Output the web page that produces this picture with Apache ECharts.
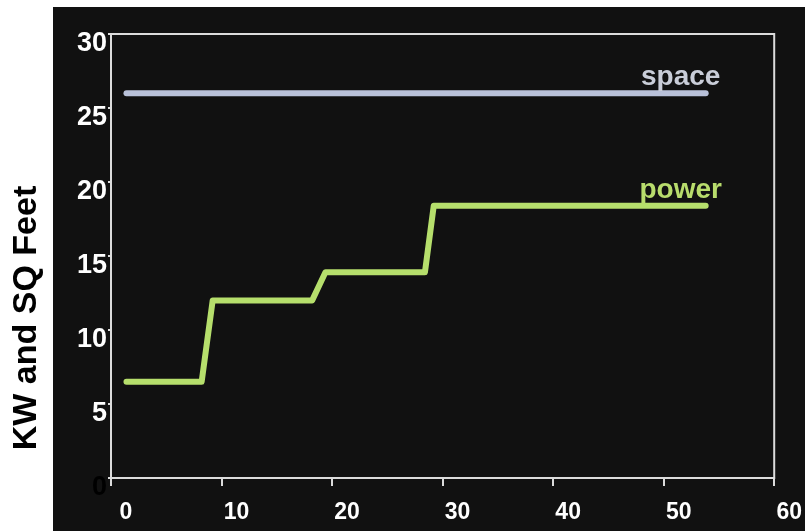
<!DOCTYPE html>
<html>
<head>
<meta charset="utf-8">
<script src="https://cdn.jsdelivr.net/npm/echarts@6/dist/echarts.min.js"></script>
<style>
html,body{margin:0;padding:0;background:#fff;}
#c{width:805px;height:531px;}
</style>
</head>
<body>
<div id="c"></div>
<script>
// Data
const spaceX = [1.4, 53.8];
const spaceY = [26, 26];
const powerX = [1.4, 8.2, 9.2, 18.2, 19.4, 28.4, 29.2, 53.8];
const powerY = [6.5, 6.5, 12.0, 12.0, 13.9, 13.9, 18.4, 18.4];
const seriesNames = ['space', 'power'];
const yTitle = 'KW and SQ Feet';

const zip = (xs, ys) => xs.map((x, i) => [x, ys[i]]);

const chart = echarts.init(document.getElementById('c'), null, {renderer: 'canvas'});

function endLabel(name, color, n) {
  return {
    show: true,
    position: 'top',
    offset: [-25, -1],
    distance: 0,
    color: color,
    fontFamily: 'Liberation Sans, Arial, sans-serif',
    fontWeight: 'bold',
    fontSize: 28,
    formatter: p => (p.dataIndex === n - 1 ? name : '')
  };
}

chart.setOption({
  animation: false,
  backgroundColor: '#ffffff',
  graphic: [
    {type: 'rect', z: -10, shape: {x: 53, y: 7, width: 760, height: 530}, style: {fill: '#111111'}},
    {type: 'text', x: 27, y: 318, rotation: Math.PI / 2,
      style: {text: yTitle, fill: '#000', font: 'bold 34px "Liberation Sans", Arial, sans-serif',
        textAlign: 'center', textVerticalAlign: 'middle'}}
  ],
  grid: {left: 111, right: 27, top: 34, bottom: 53, show: true, borderColor: '#dcdcdc', borderWidth: 2, backgroundColor: 'transparent'},
  xAxis: {
    type: 'value', min: 0, max: 60, interval: 10,
    axisLine: {show: true, lineStyle: {color: '#dcdcdc', width: 2}},
    axisTick: {show: true, length: 8, lineStyle: {color: '#dcdcdc', width: 2}},
    splitLine: {show: false},
    axisLabel: {color: '#ffffff', fontSize: 23, fontWeight: 'bold', fontFamily: 'Liberation Sans, Arial, sans-serif',
      margin: 23, padding: [0, 0, 0, 30]}
  },
  yAxis: {
    type: 'value', min: 0, max: 30, interval: 5,
    axisLine: {show: true, lineStyle: {color: '#dcdcdc', width: 2}},
    axisTick: {show: true, length: 3, lineStyle: {color: '#dcdcdc', width: 2}},
    splitLine: {show: false},
    axisLabel: {color: v => (v === 0 || v === '0' ? '#000000' : '#ffffff'), fontSize: 27, fontWeight: 'bold',
      fontFamily: 'Liberation Sans, Arial, sans-serif', margin: 4, verticalAlign: 'top', lineHeight: 20}
  },
  series: [
    {name: seriesNames[0], type: 'line', data: zip(spaceX, spaceY), showSymbol: true, symbol: 'circle', symbolSize: 1,
      itemStyle: {color: 'rgba(0,0,0,0)'},
      lineStyle: {color: '#b9c1d9', width: 6, cap: 'round', join: 'round'},
      label: endLabel(seriesNames[0], '#c9cdd8', spaceX.length)},
    {name: seriesNames[1], type: 'line', data: zip(powerX, powerY), showSymbol: true, symbol: 'circle', symbolSize: 1,
      itemStyle: {color: 'rgba(0,0,0,0)'},
      lineStyle: {color: '#b6df6c', width: 6, cap: 'round', join: 'round'},
      label: endLabel(seriesNames[1], '#b8dc6c', powerX.length)}
  ]
});
</script>
</body>
</html>
